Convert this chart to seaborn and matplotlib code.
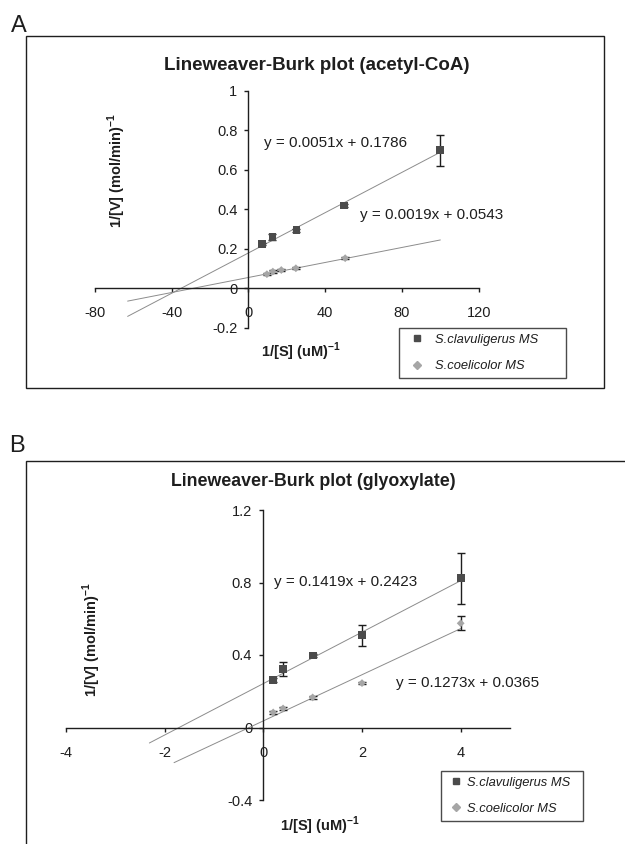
import numpy as np
import pandas as pd
import matplotlib
matplotlib.use("Agg")
import matplotlib.pyplot as plt
import seaborn as sns
from matplotlib.patches import Rectangle
from matplotlib.lines import Line2D

# panel A - acetyl-CoA
a_clav_x = [7.2, 12.5, 25, 50, 100]
a_clav_y = [0.224, 0.259, 0.293, 0.419, 0.698]
a_clav_err = [0.006, 0.016, 0.009, 0.008, 0.078]
a_coel_x = [9.6, 12.7, 17.1, 24.7, 50.4]
a_coel_y = [0.071, 0.084, 0.092, 0.101, 0.152]
a_coel_err = [0.005, 0.006, 0.006, 0.004, 0.006]
a_clav_fit = (0.0051, 0.1786)
a_coel_fit = (0.0019, 0.0543)
a_clav_range = [-63, 100]
a_coel_range = [-63, 100]
a_xticks = [-80, -40, 0, 40, 80, 120]
a_yticks = [-0.2, 0, 0.2, 0.4, 0.6, 0.8, 1.0]
a_yticklabels = ["-0.2", "0", "0.2", "0.4", "0.6", "0.8", "1"]

# panel B - glyoxylate
b_clav_x = [0.2, 0.4, 1, 2, 4]
b_clav_y = [0.263, 0.322, 0.397, 0.508, 0.824]
b_clav_err = [0.01, 0.039, 0.01, 0.058, 0.14]
b_coel_x = [0.2, 0.4, 1, 2, 4]
b_coel_y = [0.083, 0.105, 0.166, 0.245, 0.575]
b_coel_err = [0.008, 0.008, 0.008, 0.006, 0.038]
b_clav_fit = (0.1419, 0.2423)
b_coel_fit = (0.1273, 0.0365)
b_clav_range = [-2.31, 4]
b_coel_range = [-1.81, 4]
b_xticks = [-4, -2, 0, 2, 4]
b_yticks = [-0.4, 0, 0.4, 0.8, 1.2]
b_yticklabels = ["-0.4", "0", "0.4", "0.8", "1.2"]

labels = ["S.clavuligerus MS", "S.coelicolor MS"]

sns.set_theme(style="white")
plt.rcParams["font.family"] = ["Liberation Sans", "DejaVu Sans"]
plt.rcParams["axes.unicode_minus"] = False
plt.rcParams["mathtext.fontset"] = "custom"
plt.rcParams["mathtext.rm"] = "Liberation Sans"
plt.rcParams["mathtext.bf"] = "Liberation Sans:bold"

W, H = 625, 844
DARK = "#1e1e1e"
SQ = "#4b4b4b"
DI = "#a6a6a6"
LINE = "#8c8c8c"

fig = plt.figure(figsize=(W / 100, H / 100), dpi=100)


def fx(px):
    return px / W


def fy(py):
    return 1 - py / H


def make_axes(x0, x1, y0, y1):
    # pixel box of the data range
    return fig.add_axes([fx(x0), fy(y1), (x1 - x0) / W, (y1 - y0) / H])


def style_axes(ax, xlim, ylim, xticks, yticks, yticklabels):
    ax.set_xlim(*xlim)
    ax.set_ylim(*ylim)
    for s in ["top", "right"]:
        ax.spines[s].set_visible(False)
    for s in ["left", "bottom"]:
        ax.spines[s].set_position(("data", 0))
        ax.spines[s].set_color(DARK)
        ax.spines[s].set_linewidth(1.0)
    ax.set_xticks(xticks)
    ax.set_xticklabels([str(t) for t in xticks])
    ax.set_yticks(yticks)
    ax.set_yticklabels(yticklabels)
    ax.tick_params(axis="x", direction="out", length=3, width=1, color=DARK,
                   labelsize=10.5, labelcolor=DARK, pad=10, bottom=True)
    ax.tick_params(axis="y", direction="out", length=3, width=1, color=DARK,
                   labelsize=10.5, labelcolor=DARK, pad=5, left=True)
    ax.set_xlabel("")
    ax.set_ylabel("")
    ax.patch.set_alpha(0)
    ax.grid(False)


def draw_series(ax, x, y, err, fit, xr, marker, color, size):
    fx_ = np.array(xr)
    line_df = pd.DataFrame({"x": fx_, "y": fit[0] * fx_ + fit[1]})
    sns.lineplot(data=line_df, x="x", y="y", ax=ax, color=LINE, lw=0.7,
                 zorder=2)
    ax.errorbar(x, y, yerr=err, fmt="none", ecolor=DARK, elinewidth=1.0,
                capsize=3, capthick=1.0, zorder=3)
    pts = pd.DataFrame({"x": x, "y": y})
    sns.scatterplot(data=pts, x="x", y="y", ax=ax, marker=marker, s=size,
                    color=color, edgecolor="none", linewidth=0, zorder=4)
    ax.set_xlabel("")
    ax.set_ylabel("")


def add_legend(ax, x0, y0, w, h, hlen, hpad, fsize):
    handles = [
        Line2D([], [], marker="s", ls="none", color=SQ, markersize=5),
        Line2D([], [], marker="D", ls="none", color=DI, markersize=4),
    ]
    leg = ax.legend(handles, labels, loc="upper left",
                    bbox_to_anchor=(fx(x0), fy(y0 + h), w / W, h / H),
                    bbox_transform=fig.transFigure, mode="expand",
                    borderaxespad=0, frameon=True, fancybox=False,
                    prop={"style": "italic", "size": fsize},
                    handlelength=hlen, handletextpad=hpad, borderpad=0.45,
                    labelspacing=1.1)
    leg.get_frame().set_edgecolor(DARK)
    leg.get_frame().set_linewidth(1.0)
    for t in leg.get_texts():
        t.set_color(DARK)


# frames round each panel
fig.patches.append(Rectangle((fx(26), fy(388)), (604 - 26) / W, (388 - 36) / H,
                             transform=fig.transFigure, fill=False,
                             edgecolor=DARK, lw=1.0))
fig.patches.append(Rectangle((fx(26), fy(860)), (640 - 26) / W, (860 - 461) / H,
                             transform=fig.transFigure, fill=False,
                             edgecolor=DARK, lw=1.0))

fig.text(fx(11), fy(32), "A", fontsize=17, color=DARK, va="baseline")
fig.text(fx(9), fy(452), "B", fontsize=17, color=DARK, va="baseline")

# ---- panel A
axA = make_axes(95, 478.7, 90.7, 327.7)
style_axes(axA, (-80, 120), (-0.2, 1.0), a_xticks, a_yticks, a_yticklabels)
draw_series(axA, a_clav_x, a_clav_y, a_clav_err, a_clav_fit, a_clav_range,
            "s", SQ, 32)
draw_series(axA, a_coel_x, a_coel_y, a_coel_err, a_coel_fit, a_coel_range,
            "D", DI, 16)
add_legend(axA, 399.3, 328, 166.4, 52, 1.9, 0.45, 9.3)
fig.text(fx(317), fy(66), "Lineweaver-Burk plot (acetyl-CoA)", fontsize=13.5,
         fontweight="bold", color=DARK, ha="center", va="center")
fig.text(fx(117), fy(170), r"1/[V] (mol/min)$^{\mathbf{-1}}$", fontsize=10.5,
         fontweight="bold", color=DARK, rotation=90, ha="center", va="center")
fig.text(fx(301), fy(352), r"1/[S] (uM)$^{\mathbf{-1}}$", fontsize=10.5,
         fontweight="bold", color=DARK, ha="center", va="center")
fig.text(fx(264), fy(143.5), "y = 0.0051x + 0.1786", fontsize=11,
         color=DARK, ha="left", va="center")
fig.text(fx(360), fy(215), "y = 0.0019x + 0.0543", fontsize=11,
         color=DARK, ha="left", va="center")

# ---- panel B
axB = make_axes(66, 510, 510, 800)
style_axes(axB, (-4, 5), (-0.4, 1.2), b_xticks, b_yticks, b_yticklabels)
draw_series(axB, b_clav_x, b_clav_y, b_clav_err, b_clav_fit, b_clav_range,
            "s", SQ, 32)
draw_series(axB, b_coel_x, b_coel_y, b_coel_err, b_coel_fit, b_coel_range,
            "D", DI, 16)
add_legend(axB, 440.7, 770.7, 142.6, 55.3, 1.5, 0.05, 9.3)
fig.text(fx(313.7), fy(481.5), "Lineweaver-Burk plot (glyoxylate)",
         fontsize=12.8, fontweight="bold", color=DARK, ha="center",
         va="center")
fig.text(fx(92), fy(639), r"1/[V] (mol/min)$^{\mathbf{-1}}$", fontsize=10.5,
         fontweight="bold", color=DARK, rotation=90, ha="center", va="center")
fig.text(fx(320), fy(826), r"1/[S] (uM)$^{\mathbf{-1}}$", fontsize=10.5,
         fontweight="bold", color=DARK, ha="center", va="center")
fig.text(fx(274), fy(582.3), "y = 0.1419x + 0.2423", fontsize=11,
         color=DARK, ha="left", va="center")
fig.text(fx(395.7), fy(683.3), "y = 0.1273x + 0.0365", fontsize=11,
         color=DARK, ha="left", va="center")

fig.savefig("out.png", dpi=100)
